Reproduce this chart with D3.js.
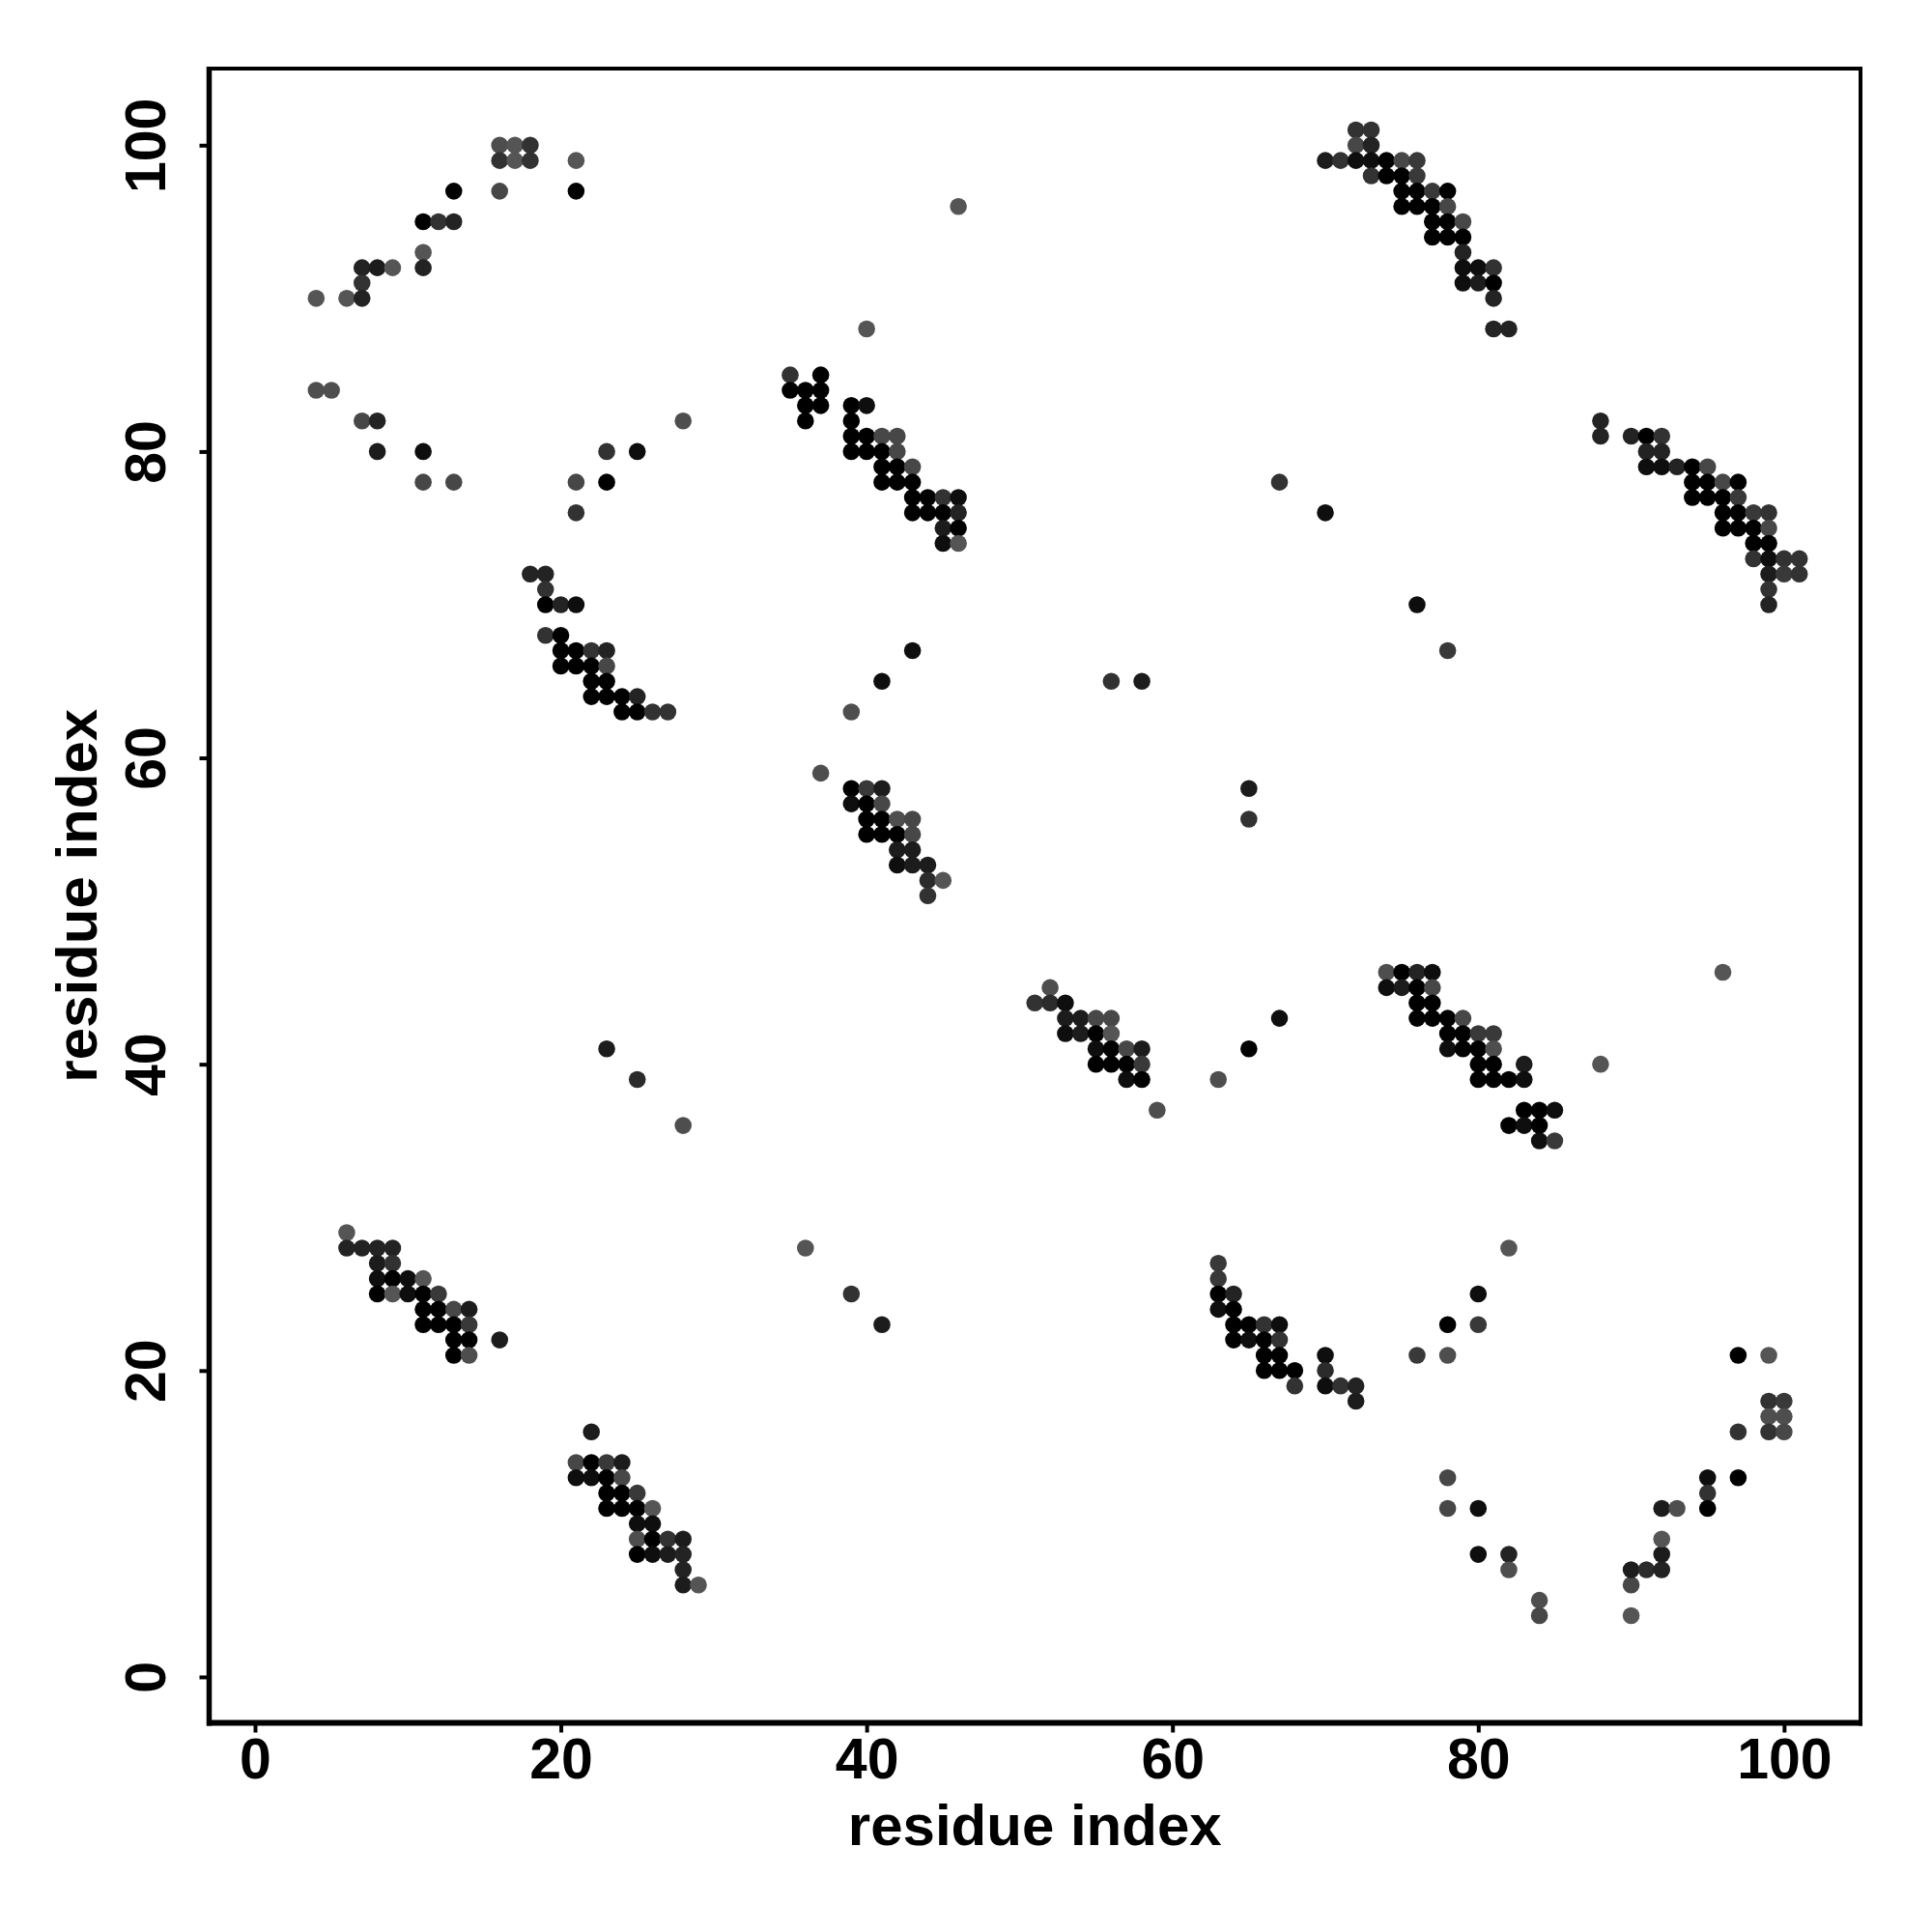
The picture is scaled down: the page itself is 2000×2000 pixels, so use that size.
<!DOCTYPE html>
<html>
<head>
<meta charset="utf-8">
<script src="https://cdn.jsdelivr.net/npm/d3@7"></script>
<style>
  html, body { margin: 0; padding: 0; background: #ffffff; }
  text { font-family: "Liberation Sans", Arial, Helvetica, sans-serif; font-weight: bold; }
</style>
</head>
<body>
<svg id="chart" width="2000" height="2000"></svg>
<script>
// ---- data: [residue i, residue j, contact probability] ----
const clusterTopLeftArc = [
  [16,100,.45],[17,100,.4],[18,100,.65],
  [16,99,.65],[17,99,.4],[18,99,.65],[21,99,.4],
  [13,97,1],[16,97,.5],[21,97,1],
  [11,95,1],[12,95,.65],[13,95,.75],
  [11,93,.4],[11,92,.75],
  [7,92,.75],[8,92,.8],[9,92,.4],
  [7,91,.65],
  [4,90,.4],[6,90,.4],[7,90,.75],
  [4,84,.45],[5,84,.45],
  [7,82,.5],[8,82,.75],
  [8,80,.8],[11,80,.9],
  [11,78,.5],[13,78,.5],
  [21,78,.5],[23,78,1],
  [23,80,.65],[25,80,.9],
  [21,76,.65],[28,82,.45]
];
const clusterUpperMid = [
  [35,85,.65],[37,85,1],
  [35,84,1],[36,84,1],[37,84,1],
  [36,83,1],[37,83,1],[36,82,1],
  [39,83,1],[40,83,.9],[39,82,1],
  [39,81,1],[40,81,1],[41,81,.5],[42,81,.5],
  [39,80,1],[40,80,1],[41,80,1],[42,80,.5],
  [41,79,1],[42,79,1],[43,79,.5],
  [41,78,1],[42,78,1],[43,78,1],
  [43,77,1],[44,77,1],[45,77,.65],[46,77,.9],
  [43,76,1],[44,76,1],[45,76,1],[46,76,.75],
  [45,75,.8],[46,75,1],
  [45,74,.9],[46,74,.4],
  [46,96,.4],[40,88,.4]
];
const clusterLeftMid = [
  [18,72,.75],[19,72,.75],[19,71,.65],
  [19,70,1],[20,70,.75],[21,70,.9],
  [19,68,.65],[20,68,1],
  [20,67,1],[21,67,1],[22,67,.65],[23,67,.75],
  [20,66,1],[21,66,1],[22,66,1],[23,66,.5],
  [22,65,1],[23,65,1],
  [22,64,1],[23,64,1],[24,64,1],[25,64,.75],
  [24,63,1],[25,63,1],[26,63,.65],[27,63,.65]
];
const clusterCentreLeft = [
  [39,58,1],[40,58,.6],[41,58,.8],
  [39,57,.9],[40,57,1],[41,57,.5],
  [40,56,1],[41,56,1],[42,56,.45],[43,56,.5],
  [40,55,1],[41,55,1],[42,55,1],[43,55,.5],
  [42,54,.8],[43,54,.8],
  [42,53,.9],[43,53,.8],[44,53,.8],
  [44,52,.7],[45,52,.4],[44,51,.65],
  [37,59,.45],[39,63,.45],[41,65,.9],[43,67,.9],
  [23,41,.8],[25,39,.7],[28,36,.45]
];
const clusterCentre = [
  [52,45,.45],
  [51,44,.65],[52,44,.7],[53,44,.9],
  [53,43,.8],[54,43,.8],[55,43,.5],[56,43,.5],
  [53,42,.9],[54,42,.8],[55,42,1],[56,42,.4],
  [55,41,.9],[56,41,1],[57,41,.5],[58,41,.8],
  [55,40,1],[56,40,1],[57,40,1],[58,40,.6],
  [57,39,.9],[58,39,1],[59,37,.45],
  [63,39,.45],[65,41,1],[67,43,.9],
  [56,65,.65],[58,65,.8],[65,58,.8],[65,56,.65],
  [67,78,.65],[70,76,.9],[76,70,.9],[78,67,.6]
];
const clusterCentreRight = [
  [74,46,.45],[75,46,1],[76,46,.75],[77,46,.9],
  [74,45,.9],[75,45,.8],[76,45,1],[77,45,.5],
  [76,44,1],[77,44,1],
  [76,43,1],[77,43,1],[78,43,1],[79,43,.5],
  [78,42,1],[79,42,1],[80,42,.6],[81,42,.6],
  [78,41,.9],[79,41,1],[80,41,1],[81,41,.45],
  [80,40,1],[81,40,1],[83,40,.8],
  [80,39,1],[81,39,1],[82,39,1],[83,39,.9],
  [83,37,1],[84,37,1],[85,37,.9],
  [82,36,1],[83,36,.9],[84,36,1],
  [84,35,.9],[85,35,.6],
  [88,40,.4],[96,46,.4]
];
const clusterTopRight = [
  [72,101,.65],[73,101,.65],
  [72,100,.5],[73,100,.75],
  [70,99,.8],[71,99,.65],[72,99,.9],[73,99,.9],[74,99,1],[75,99,.5],[76,99,.6],
  [73,98,.65],[74,98,1],[75,98,1],[76,98,.6],
  [75,97,1],[76,97,1],[77,97,.6],[78,97,1],
  [75,96,1],[76,96,1],[77,96,1],[78,96,.5],
  [77,95,1],[78,95,1],[79,95,.5],
  [77,94,1],[78,94,1],[79,94,1],
  [79,93,.75],
  [79,92,.9],[80,92,.9],[81,92,.65],
  [79,91,.9],[80,91,.8],[81,91,1],
  [81,90,.75],
  [81,88,.75],[82,88,.75]
];
const clusterRight = [
  [88,82,.75],[88,81,.75],
  [90,81,.75],[91,81,1],[92,81,.65],
  [91,80,.75],[92,80,.75],
  [91,79,.9],[92,79,.9],[93,79,.75],[94,79,1],[95,79,.5],
  [94,78,1],[95,78,1],[96,78,.5],[97,78,1],
  [94,77,1],[95,77,1],[96,77,1],[97,77,.6],
  [96,76,1],[97,76,1],[98,76,.6],[99,76,.65],
  [96,75,1],[97,75,1],[98,75,1],[99,75,.5],
  [98,74,1],[99,74,1],
  [98,73,.65],[99,73,.9],[100,73,.65],[101,73,.65],
  [99,72,.8],[100,72,.6],[101,72,.65],
  [99,71,.65],[99,70,.75]
];
const clusterBottomLeft = [
  [6,29,.4],
  [6,28,.75],[7,28,.75],[8,28,.75],[9,28,.75],
  [8,27,.8],[9,27,.65],
  [8,26,.9],[9,26,1],[10,26,.9],[11,26,.4],
  [8,25,1],[9,25,.4],[10,25,.9],[11,25,1],[12,25,.6],
  [11,24,1],[12,24,1],[13,24,.5],[14,24,.8],
  [11,23,1],[12,23,1],[13,23,1],[14,23,.6],
  [13,22,1],[14,22,1],[16,22,.8],
  [13,21,1],[14,21,.45],
  [36,28,.4],[39,25,.65],[41,23,.8]
];
const clusterBottomMid = [
  [22,16,.8],
  [21,14,.5],[22,14,1],[23,14,.6],[24,14,.8],
  [21,13,.9],[22,13,.9],[23,13,1],[24,13,.5],
  [23,12,1],[24,12,1],[25,12,.6],
  [23,11,1],[24,11,1],[25,11,1],[26,11,.4],
  [25,10,.9],[26,10,.9],
  [25,9,.45],[26,9,1],[27,9,.65],[28,9,.8],
  [25,8,1],[26,8,.9],[27,8,.8],[28,8,.75],
  [28,7,.75],[28,6,.8],[29,6,.4]
];
const clusterBottomCentre = [
  [63,27,.6],[63,26,.6],
  [63,25,1],[64,25,.75],
  [63,24,.9],[64,24,1],
  [64,23,1],[65,23,1],[66,23,.65],[67,23,.9],
  [64,22,1],[65,22,.9],[66,22,1],[67,22,.65],
  [66,21,1],[67,21,1],
  [66,20,1],[67,20,1],[68,20,1],
  [68,19,.65],
  [70,21,.9],[70,20,.7],[70,19,.9],
  [71,19,.65],[72,19,.75],[72,18,.8]
];
const clusterBottomRight = [
  [82,28,.4],[80,25,.9],[78,23,1],[80,23,.6],[76,21,.6],[78,21,.45],
  [78,13,.5],[78,11,.5],[80,11,.9],[80,8,.9],[82,8,.75],[82,7,.45],
  [84,5,.45],[84,4,.5],[90,4,.4],[90,6,.5],[90,7,.8],[91,7,.7],[92,7,.75],
  [92,8,.8],[92,9,.4],[92,11,.8],[93,11,.45],
  [95,13,.9],[95,12,.65],[95,11,1],[97,13,1],[97,16,.65],
  [99,18,.65],[100,18,.6],[99,17,.45],[100,17,.45],[99,16,.65],[100,16,.5],
  [97,21,1],[99,21,.4]
];
const axisTicks = [0, 20, 40, 60, 80, 100];
const axisDomain = [-3, 105];
const xLabel = "residue index";
const yLabel = "residue index";

const contacts = [].concat(
  clusterTopLeftArc, clusterUpperMid, clusterLeftMid, clusterCentreLeft,
  clusterCentre, clusterCentreRight, clusterTopRight, clusterRight,
  clusterBottomLeft, clusterBottomMid, clusterBottomCentre, clusterBottomRight
);

// ---- layout ----
const box = { left: 216.5, right: 1926, top: 71, bottom: 1783.5 };
const svg = d3.select("#chart");
svg.append("rect").attr("width", 2000).attr("height", 2000).attr("fill", "#fff");

const x = d3.scaleLinear().domain(axisDomain).range([box.left, box.right]);
const y = d3.scaleLinear().domain(axisDomain).range([box.bottom, box.top]);
const shade = d3.scaleLinear().domain([0.4, 1]).range(["#555555", "#000000"]).clamp(true);

// points
svg.append("g").selectAll("circle")
  .data(contacts)
  .join("circle")
  .attr("cx", d => x(d[0]))
  .attr("cy", d => y(d[1]))
  .attr("r", 8.8)
  .attr("fill", d => shade(d[2]));

// box
const frame = svg.append("g").attr("stroke", "#000").attr("fill", "none");
frame.append("line").attr("x1", box.left).attr("x2", box.right).attr("y1", box.top).attr("y2", box.top).attr("stroke-width", 4);
frame.append("line").attr("x1", box.right).attr("x2", box.right).attr("y1", box.top - 2).attr("y2", box.bottom + 3).attr("stroke-width", 4);
frame.append("line").attr("x1", box.left).attr("x2", box.left).attr("y1", box.top - 2).attr("y2", box.bottom + 3).attr("stroke-width", 5.5);
frame.append("line").attr("x1", box.left - 2.5).attr("x2", box.right + 2).attr("y1", box.bottom).attr("y2", box.bottom).attr("stroke-width", 6);

// axes
const tickFont = "59px";
const xAxis = svg.append("g")
  .attr("transform", `translate(0,${box.bottom})`)
  .call(d3.axisBottom(x).tickValues(axisTicks).tickSize(10).tickSizeOuter(0).tickPadding(0));
xAxis.select(".domain").remove();
xAxis.selectAll(".tick line").attr("stroke", "#000").attr("stroke-width", 4);
xAxis.selectAll(".tick text")
  .attr("y", 57).attr("dy", null)
  .attr("fill", "#000")
  .style("font-size", tickFont)
  .style("font-family", '"Liberation Sans", Arial, sans-serif')
  .style("font-weight", "bold");

const yAxis = svg.append("g")
  .attr("transform", `translate(${box.left},0)`)
  .call(d3.axisLeft(y).tickValues(axisTicks).tickSize(10).tickSizeOuter(0).tickPadding(0));
yAxis.select(".domain").remove();
yAxis.selectAll(".tick line").attr("stroke", "#000").attr("stroke-width", 4);
yAxis.selectAll(".tick text")
  .attr("x", null).attr("dy", null)
  .attr("text-anchor", "middle")
  .attr("transform", "translate(-46,0) rotate(-90)")
  .attr("fill", "#000")
  .style("font-size", tickFont)
  .style("font-family", '"Liberation Sans", Arial, sans-serif')
  .style("font-weight", "bold");

// axis titles
svg.append("text")
  .attr("x", (box.left + box.right) / 2)
  .attr("y", 1910)
  .attr("text-anchor", "middle")
  .style("font-size", "60px")
  .text(xLabel);

svg.append("text")
  .attr("transform", `translate(100,${(box.top + box.bottom) / 2}) rotate(-90)`)
  .attr("text-anchor", "middle")
  .style("font-size", "60px")
  .text(yLabel);
</script>
</body>
</html>
